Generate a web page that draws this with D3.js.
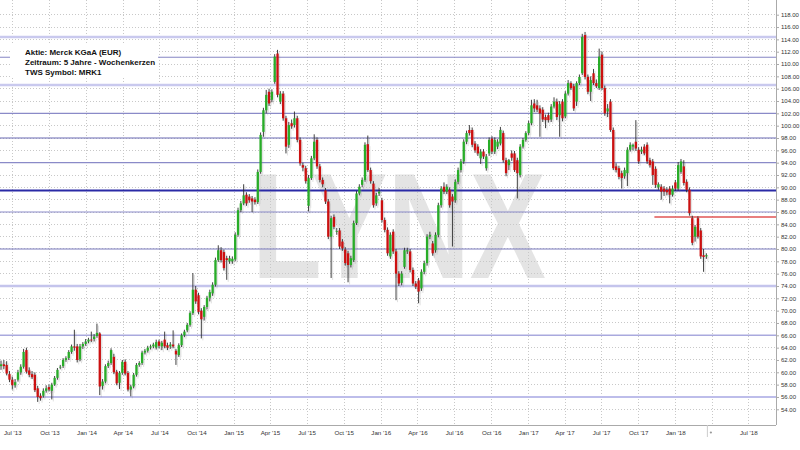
<!DOCTYPE html>
<html><head><meta charset="utf-8">
<script src="https://cdn.jsdelivr.net/npm/d3@7"></script>
<style>body{margin:0;background:#fff}svg{display:block}</style>
</head><body><svg id="c" width="800" height="450"></svg>
<script>
// ---- data ----
const startWeek = "2013-06-03";
const opens = [61.0,61.3,61.2,59.7,58.8,57.9,58.8,60.0,60.9,63.6,60.3,59.7,59.6,57.4,56.2,56.2,57.0,57.6,57.0,58.0,59.1,60.8,61.0,62.0,62.3,63.3,64.2,64.2,62.1,64.2,64.6,65.0,65.3,65.4,65.9,66.3,57.8,58.5,61.0,61.5,62.5,60.1,58.3,59.9,61.7,59.9,57.2,57.7,59.6,61.2,61.5,63.2,63.5,64.0,64.2,64.0,65.0,64.2,65.3,64.4,64.2,64.5,63.5,62.8,64.4,66.0,66.8,67.7,69.6,73.4,72.5,70.0,69.0,70.6,72.1,72.8,74.2,78.2,79.8,79.5,78.5,78.0,78.0,78.3,82.3,86.3,87.4,88.8,88.5,88.2,88.0,87.6,92.5,99.0,102.5,105.5,104.2,107.1,111.7,103.9,105.2,101.2,96.9,100.4,100.1,101.2,97.7,93.6,93.1,87.0,91.5,94.7,97.7,93.4,91.2,89.5,87.7,82.0,85.2,82.8,83.0,81.2,79.9,79.3,77.4,78.2,84.2,89.0,90.4,91.2,97.0,92.8,90.6,87.4,89.0,87.9,84.7,83.1,78.8,82.8,79.6,76.0,74.5,77.1,79.6,79.6,76.6,74.4,74.9,73.6,76.3,77.7,82.0,80.9,79.8,82.3,87.1,90.1,89.3,89.6,88.5,87.9,90.9,92.8,94.2,97.4,99.3,99.3,97.1,96.6,94.7,95.8,93.1,95.5,97.9,95.8,96.6,97.1,98.8,94.4,93.6,95.5,95.5,94.4,92.0,96.6,97.7,98.8,100.4,103.6,103.3,102.8,102.6,101.4,101.7,101.0,103.1,103.9,101.7,103.9,101.5,105.2,106.9,106.4,103.9,106.9,108.5,114.7,107.9,105.5,108.5,106.9,106.1,111.5,106.1,102.3,103.9,99.3,93.4,93.1,92.3,91.8,92.3,96.1,96.6,97.4,96.1,95.8,96.6,96.9,94.4,94.2,93.0,90.0,90.1,89.8,89.6,89.8,88.8,90.8,89.8,92.5,93.4,90.9,89.6,85.0,82.0,85.0,83.0,79.0,78.8];
const highs = [61.9,62.0,61.8,60.2,59.3,58.9,60.4,61.3,63.8,64.0,60.8,60.2,60.0,57.8,56.6,57.4,57.9,58.0,58.3,59.4,60.7,61.2,62.3,62.6,63.6,64.5,66.9,64.6,64.6,64.9,65.4,65.6,66.6,66.2,67.9,66.5,58.9,61.3,61.9,63.9,63.0,60.4,60.2,62.0,62.1,60.2,58.0,59.9,61.5,61.8,63.5,63.8,64.3,64.5,64.8,65.3,65.3,65.1,66.6,64.8,64.9,66.8,63.8,64.7,66.3,66.9,68.0,69.9,76.1,74.0,72.9,70.4,70.9,72.4,73.4,74.6,78.6,80.6,80.3,79.9,78.9,78.9,78.8,82.7,86.7,87.8,90.5,89.2,88.9,88.6,88.4,92.9,98.9,102.9,105.8,106.0,105.9,111.6,112.3,105.6,105.6,101.6,100.6,101.0,102.3,101.6,98.1,94.0,93.5,92.0,95.1,98.6,98.1,93.8,91.6,89.9,88.1,85.4,85.6,83.4,83.4,81.6,80.3,79.7,78.9,84.6,89.4,90.5,91.6,97.3,98.4,93.2,91.0,89.1,89.9,88.3,85.1,83.5,82.7,83.2,80.0,76.4,76.4,80.2,80.2,80.0,77.0,74.8,75.3,76.7,78.1,82.4,82.8,81.3,82.7,87.5,90.2,90.8,90.5,90.0,88.9,91.3,93.2,94.6,97.8,99.2,100.1,99.7,97.5,97.0,96.2,96.2,95.4,98.1,98.3,98.1,97.8,99.8,99.2,94.8,94.6,96.0,95.9,94.8,97.0,98.0,99.1,100.8,104.2,104.3,104.2,103.3,103.0,101.8,102.1,103.5,104.6,104.4,104.0,104.3,105.6,107.4,107.2,106.8,107.2,108.3,114.9,115.2,108.3,108.0,109.2,107.5,112.5,112.0,106.5,103.5,104.3,99.7,93.9,93.5,92.7,93.2,96.5,97.3,97.1,100.9,96.5,96.6,97.0,97.3,94.8,94.6,93.4,90.8,90.5,90.2,90.0,90.2,90.3,91.2,94.1,94.6,94.4,91.3,90.0,85.4,83.9,85.3,83.4,80.0,79.3];
const lows = [60.4,60.5,59.5,58.4,57.2,57.5,58.5,59.6,60.6,59.8,59.2,58.9,56.8,55.2,55.4,55.9,56.7,56.9,55.6,57.8,58.8,60.5,60.7,61.7,62.0,63.0,63.5,61.6,61.8,63.8,64.3,64.7,64.9,65.0,65.6,56.3,57.2,58.2,60.7,61.2,59.7,57.9,57.3,59.6,59.5,56.9,56.1,57.4,59.3,60.9,61.2,62.9,63.2,63.7,63.9,63.7,63.9,63.6,63.9,63.6,63.8,63.9,61.2,62.5,64.1,65.7,66.5,67.4,69.3,71.1,69.4,65.5,68.4,70.2,71.5,72.4,73.9,77.9,77.8,76.5,75.0,77.6,77.6,78.0,82.0,86.0,87.1,87.0,87.5,86.0,87.2,87.3,92.2,98.2,102.0,103.2,103.8,106.8,104.6,103.5,100.8,95.5,96.4,99.5,99.7,97.3,93.5,92.6,90.6,86.1,91.2,94.4,93.0,90.8,90.0,87.3,81.6,75.3,83.2,82.3,80.0,79.7,77.3,74.6,77.0,77.9,83.9,88.7,90.0,90.9,92.5,90.6,86.7,87.0,88.6,84.3,82.7,78.9,78.4,79.2,71.7,74.0,74.1,76.8,79.2,76.2,74.0,73.5,71.2,73.2,75.9,77.3,81.6,78.9,79.4,81.9,86.7,88.9,88.9,86.7,80.4,87.5,90.5,92.4,93.8,97.0,98.4,96.5,95.6,95.1,93.8,94.6,92.7,95.1,95.4,95.4,96.2,96.8,94.0,91.8,92.8,94.3,92.5,88.2,91.6,96.3,97.4,98.5,100.1,102.2,102.2,98.2,100.6,99.6,100.5,100.6,102.8,100.9,98.2,100.7,101.2,104.9,105.8,102.4,103.2,106.6,108.2,107.5,105.1,104.0,106.6,106.1,105.8,105.8,101.6,101.4,99.0,92.8,92.4,91.3,89.8,91.4,90.2,95.8,96.0,95.9,93.8,95.4,95.2,93.8,93.2,90.4,89.9,89.6,88.0,88.6,88.7,87.4,88.5,89.4,89.5,92.2,90.3,89.2,85.4,80.6,81.2,81.7,78.4,76.3,78.4];
const closes = [61.3,61.0,59.8,58.8,57.9,58.4,60.0,60.9,63.3,60.1,59.6,59.2,57.1,56.0,55.8,57.0,57.4,57.2,58.0,59.1,60.4,60.9,62.0,62.3,63.3,64.2,64.0,62.0,64.2,64.6,65.0,65.3,65.2,65.8,66.4,57.7,58.5,61.0,61.5,63.6,60.0,58.2,59.9,61.7,59.8,57.2,57.7,59.6,61.2,61.5,63.2,63.5,64.0,64.2,64.5,64.9,64.3,64.8,64.2,64.0,64.5,64.2,62.9,64.4,66.0,66.6,67.7,69.6,73.4,71.5,69.8,68.6,70.6,72.1,73.0,74.2,78.2,79.8,78.2,76.9,78.2,78.5,78.4,82.3,86.3,87.4,88.7,87.4,87.9,87.7,87.6,92.5,98.5,102.5,105.0,103.6,105.5,111.2,105.0,105.2,101.2,96.6,100.1,99.9,101.2,97.7,93.9,93.2,91.0,91.5,94.7,97.4,93.4,91.2,90.5,87.7,82.0,85.0,83.6,82.9,80.4,80.1,77.7,77.4,78.5,84.2,89.0,90.1,91.2,96.9,92.8,91.0,87.1,88.7,89.3,84.7,83.1,79.3,82.3,79.6,76.0,74.4,76.0,79.8,79.8,76.6,74.4,73.9,73.1,76.3,77.7,82.0,82.3,79.3,82.3,87.1,89.8,89.3,90.1,87.1,87.7,90.9,92.8,94.2,97.4,98.8,98.8,96.9,96.0,95.5,95.8,95.0,95.0,97.7,95.8,97.7,97.4,99.3,94.4,92.3,94.4,94.8,92.8,92.3,96.6,97.7,98.8,100.4,103.3,102.8,102.6,102.0,101.0,100.9,100.9,103.1,103.9,101.4,103.5,101.2,105.2,106.9,106.1,102.8,106.9,107.9,114.4,107.9,105.5,107.4,106.9,106.4,111.2,106.1,102.0,102.8,99.3,93.1,92.8,91.7,91.5,92.8,96.1,96.9,96.9,96.3,94.2,96.1,95.5,94.2,93.6,92.0,90.4,90.5,89.3,89.3,89.2,88.8,89.8,89.8,93.6,94.2,90.7,89.6,85.8,81.0,83.6,82.0,78.8,78.7,79.0];
const levels = [114.4, 111.1, 106.6, 102.0, 98.0, 94.0, 89.5, 86.0, 80.0, 74.0, 66.0, 56.0];
const redLevel = 85.2, redLevelFrom = "2017-11-10";
const priceTicks = d3.range(54, 118.01, 2);
const legendLines = ["Aktie: Merck KGaA (EUR)", "Zeitraum: 5 Jahre - Wochenkerzen", "TWS Symbol: MRK1"];

// ---- styles ----
const levelStyle = [
  ["#c9c9ee",2.5],["#8585c4",1],["#c9c9ee",2.5],["#8a8ac8",1.2],["#6b6bb4",1.2],["#8a8ac8",1.2],
  ["#2a2aa6",2],["#8a8ac8",1],["#7a7abd",1.2],["#c4c4ec",2.5],["#a9a9de",1.6],["#bdbdea",2]
];
const plotR = 776, plotB = 425;
const font = "Liberation Sans, Arial, sans-serif";
const svg = d3.select("#c");
const x = d3.scaleUtc().domain([new Date("2013-07-01T00:00:00Z"), new Date("2018-07-01T00:00:00Z")]).range([12.3, 748.3]);
const y = d3.scaleLinear().domain([118, 54]).range([14.7, 409.3]);
const t0 = new Date(startWeek + "T00:00:00Z");
const data = closes.map((c, i) => ({date: d3.utcDay.offset(t0, 7 * i), o: opens[i], h: highs[i], l: lows[i], c}));
const qTicks = d3.utcMonth.every(3).range(new Date("2013-07-01T00:00:00Z"), new Date("2018-07-02T00:00:00Z"));
const labelTicks = qTicks.filter(d => !(d.getUTCFullYear() === 2018 && d.getUTCMonth() === 3));

// watermark
svg.append("text").attr("x", 252).attr("y", 278).attr("font-family", font)
  .attr("font-weight", "bold").attr("font-size", 151).attr("fill", "#e4e4e4")
  .attr("textLength", 294).attr("lengthAdjust", "spacingAndGlyphs").text("LYNX");

// grid
const g = svg.append("g");
g.selectAll("line.hg").data(priceTicks).join("line")
  .attr("x1", 0).attr("x2", plotR).attr("y1", d => y(d)).attr("y2", d => y(d))
  .attr("stroke", "#c8c8c8").attr("stroke-width", 1).attr("stroke-dasharray", "1,2").attr("shape-rendering", "crispEdges");
g.selectAll("line.vg").data(qTicks).join("line")
  .attr("x1", d => Math.round(x(d)) + 0.5).attr("x2", d => Math.round(x(d)) + 0.5).attr("y1", 0).attr("y2", plotB)
  .attr("stroke", "#c8c8c8").attr("stroke-width", 1).attr("stroke-dasharray", "1,2");

// level lines
svg.selectAll("line.lv").data(levels).join("line")
  .attr("x1", 0).attr("x2", plotR).attr("y1", d => y(d)).attr("y2", d => y(d))
  .attr("stroke", (d, i) => levelStyle[i][0]).attr("stroke-width", (d, i) => levelStyle[i][1]);
svg.append("line").attr("x1", x(new Date(redLevelFrom + "T00:00:00Z"))).attr("x2", plotR)
  .attr("y1", y(redLevel)).attr("y2", y(redLevel)).attr("stroke", "#e05555").attr("stroke-width", 1.5);

// candles
const bw = 2.3;
const cg = svg.append("g");
const sh = cg.append("g").attr("transform", "translate(1.5,2)").attr("opacity", 0.22);
sh.selectAll("line").data(data).join("line")
  .attr("x1", d => x(d.date)).attr("x2", d => x(d.date)).attr("y1", d => y(d.h)).attr("y2", d => y(d.l))
  .attr("stroke", "#777").attr("stroke-width", 1);
sh.selectAll("rect").data(data).join("rect")
  .attr("x", d => x(d.date) - bw / 2).attr("width", bw)
  .attr("y", d => y(Math.max(d.o, d.c))).attr("height", d => Math.max(0.8, Math.abs(y(d.o) - y(d.c))))
  .attr("fill", "#888");
cg.selectAll("line.w").data(data).join("line").attr("class", "w")
  .attr("x1", d => x(d.date)).attr("x2", d => x(d.date)).attr("y1", d => y(d.h)).attr("y2", d => y(d.l))
  .attr("stroke", "#2b2b2b").attr("stroke-width", 0.9);
cg.selectAll("rect.b").data(data).join("rect").attr("class", "b")
  .attr("x", d => x(d.date) - bw / 2).attr("width", bw)
  .attr("y", d => y(Math.max(d.o, d.c))).attr("height", d => Math.max(0.8, Math.abs(y(d.o) - y(d.c))))
  .attr("fill", d => d.c >= d.o ? "#28ad28" : "#cc1010");

// legend
svg.append("rect").attr("x", 10).attr("y", 43).attr("width", 148).attr("height", 35).attr("fill", "#fff");
svg.selectAll("text.lg").data(legendLines).join("text")
  .attr("x", 25).attr("y", (d, i) => 54.5 + i * 10).attr("font-family", font)
  .attr("font-weight", "bold").attr("font-size", 8).attr("fill", "#111").text(d => d);

// axes
const ax = svg.append("g").attr("transform", `translate(0,${plotB})`)
  .call(d3.axisBottom(x).tickValues(labelTicks).tickFormat(d3.utcFormat("%b '%y")).tickSize(0).tickPadding(6));
ax.select(".domain").remove();
ax.selectAll("text").attr("font-family", font).attr("font-size", 6.2).attr("fill", "#333");
svg.append("line").attr("x1", 0).attr("x2", plotR).attr("y1", plotB + 0.5).attr("y2", plotB + 0.5).attr("stroke", "#aaa");
const ay = svg.append("g").attr("transform", `translate(${plotR},0)`)
  .call(d3.axisRight(y).tickValues(priceTicks).tickFormat(d3.format(".2f")).tickSize(3).tickPadding(2));
ay.select(".domain").remove();
ay.selectAll("line").attr("stroke", "#aaa");
ay.selectAll("text").attr("font-family", font).attr("font-size", 6).attr("fill", "#333");
svg.append("line").attr("x1", plotR + 0.5).attr("x2", plotR + 0.5).attr("y1", 0).attr("y2", plotB).attr("stroke", "#aaa");
// current-date marker under axis
const lastX = x(data[data.length - 1].date) + 1;
svg.append("line").attr("x1", lastX).attr("x2", lastX).attr("y1", plotB).attr("y2", plotB + 12).attr("stroke", "#ccc");
svg.append("circle").attr("cx", lastX + 3.5).attr("cy", plotB + 7.5).attr("r", 1.1).attr("fill", "#999");
</script></body></html>
